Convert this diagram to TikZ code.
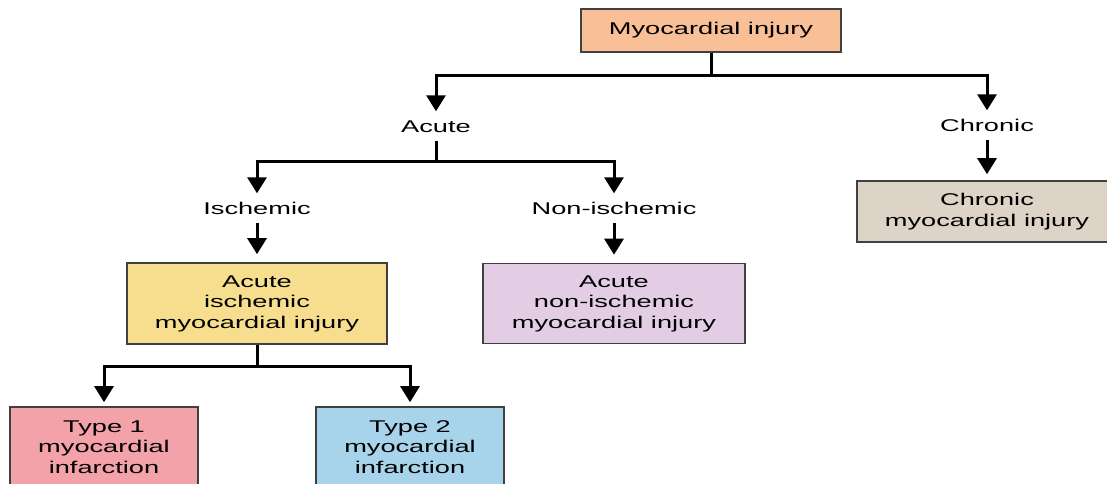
\documentclass[tikz,border=0pt]{standalone}
\usepackage{fontspec}
\setmainfont[FakeStretch=1.6]{Liberation Sans}
\usetikzlibrary{arrows.meta}

\definecolor{peach}{RGB}{249,191,151}
\definecolor{ischyellow}{RGB}{246,222,142}
\definecolor{lavender}{RGB}{226,205,228}
\definecolor{beige}{RGB}{221,211,199}
\definecolor{typepink}{RGB}{242,162,168}
\definecolor{typeblue}{RGB}{168,212,235}

\tikzset{
  box/.style={draw=black!75, line width=1.6pt, align=center, inner sep=0pt},
  lbl/.style={inner xsep=0pt, inner ysep=8.5pt, text height=12pt, text depth=0pt, anchor=base},
  link/.style={line width=3pt},
  arr/.style={line width=3pt, -{Triangle[width=19pt,length=16pt]}}
}

\begin{document}
\begin{tikzpicture}[x=1pt,y=-1pt,font=\fontsize{17pt}{20.5pt}\selectfont]

\useasboundingbox (0,0) rectangle (1107,483);

% Myocardial injury
\node[box, fill=peach, minimum width=260pt, minimum height=43pt] (injury) at (711,30.5) {Myocardial injury};

\coordinate (fork1) at (711,75);
\node[lbl] (acute) at (436,132) {Acute};
\node[lbl] (chronic) at (987,131) {Chronic};

\draw[link] (injury) -- (fork1);
\draw[arr] (fork1) -| (acute);
\draw[arr] (fork1) -| (chronic);

% Acute
\coordinate (fork2) at (436,161);
\node[lbl] (isch) at (257,214) {Ischemic};
\node[lbl] (nonisch) at (614,214) {Non-ischemic};

\draw[link] (acute) -- (fork2);
\draw[arr] (fork2) -| (isch);
\draw[arr] (fork2) -| (nonisch);

\node[box, fill=ischyellow, minimum width=260pt, minimum height=81pt] (ischbox) at (257,303.5)
  {Acute\\ischemic\\myocardial injury};
\node[box, fill=lavender, minimum width=262pt, minimum height=80pt] (nonischbox) at (614,303.5)
  {Acute\\non-ischemic\\myocardial injury};

\draw[arr, shorten >=8pt] (isch) -- (ischbox);
\draw[arr, shorten >=8pt] (nonisch) -- (nonischbox);

% Chronic
\node[box, fill=beige, minimum width=260pt, minimum height=61pt] (chronicbox) at (987,211.5)
  {Chronic\\myocardial injury};

\draw[arr, shorten >=6pt] (chronic) -- (chronicbox);

% Types of infarction
\coordinate (fork3) at (257,366);
\node[box, fill=typepink, minimum width=188pt, minimum height=80pt] (type1) at (104,447)
  {Type 1\\myocardial\\infarction};
\node[box, fill=typeblue, minimum width=188pt, minimum height=80pt] (type2) at (410,447)
  {Type 2\\myocardial\\infarction};

\draw[link] (ischbox) -- (fork3);
\draw[arr, shorten >=4pt] (fork3) -| (type1);
\draw[arr, shorten >=4pt] (fork3) -| (type2);

\end{tikzpicture}
\end{document}
